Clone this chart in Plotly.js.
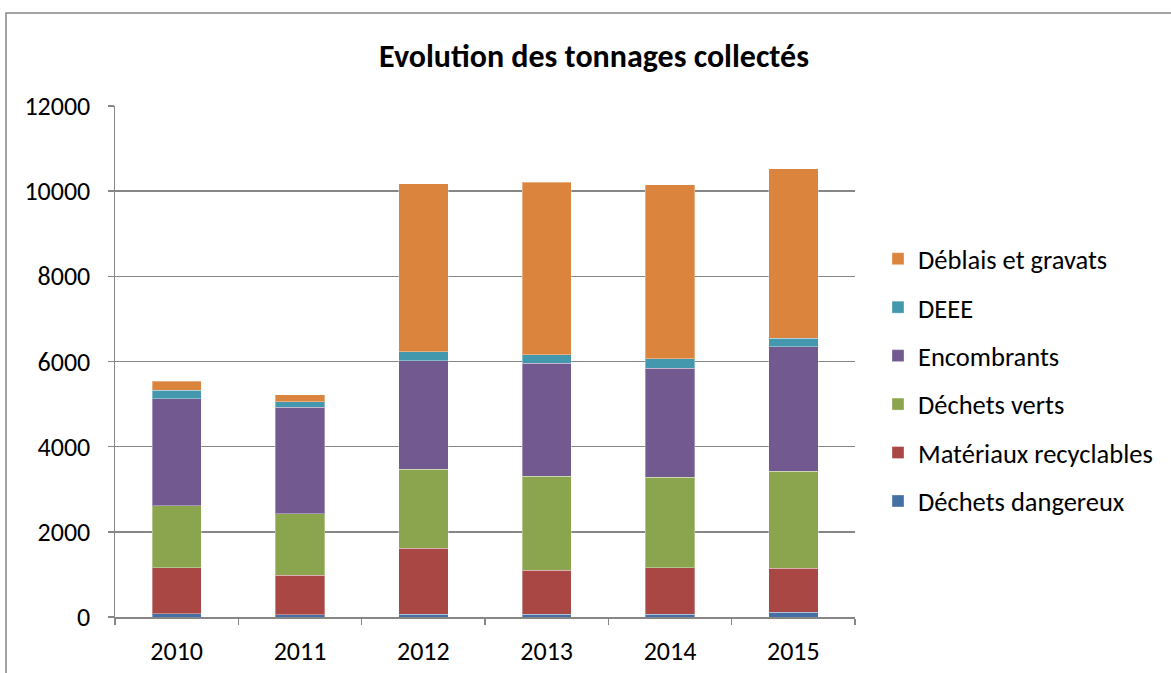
<!DOCTYPE html>
<html>
<head>
<meta charset="utf-8">
<script src="https://cdn.plot.ly/plotly-3.0.1.min.js"></script>
<style>html,body{margin:0;padding:0;background:#fff;}#chart{width:1171px;height:673px;}</style>
</head>
<body>
<div id="chart"></div>
<script>
const years = ['2010', '2011', '2012', '2013', '2014', '2015'];
const dechetsDangereux = [80, 55, 63, 63, 63, 117];
const materiauxRecyclables = [1080, 930, 1550, 1033, 1095, 1026];
const dechetsVerts = [1455, 1440, 1855, 2206, 2128, 2284];
const encombrants = [2505, 2500, 2550, 2652, 2551, 2917];
const deee = [210, 135, 210, 202, 226, 197];
const deblaisGravats = [210, 157, 3945, 4053, 4092, 3990];
const yTicks = [0, 2000, 4000, 6000, 8000, 10000, 12000];

const seriesNames = ['Déchets dangereux', 'Matériaux recyclables', 'Déchets verts', 'Encombrants', 'DEEE', 'Déblais et gravats'];
const seriesValues = [dechetsDangereux, materiauxRecyclables, dechetsVerts, encombrants, deee, deblaisGravats];
const colors = ['#4470A5', '#A94745', '#8AA54D', '#72598F', '#4398AE', '#DB843D'];

const FONT = 'Carlito, Lato, "Liberation Sans", sans-serif';

const traces = seriesNames.map((name, i) => ({
  type: 'bar',
  name: name,
  x: years,
  y: seriesValues[i],
  legendgroup: 'g' + i,
  legendrank: 100 - i,
  marker: {color: colors[i], line: {color: 'rgba(255,255,255,0.35)', width: 1}},
  hoverinfo: 'x+y+name'
}));

const L = 115, R = 855, T = 106, B = 617, W = 1171, H = 673;
const pw = R - L, ph = B - T;
const px = v => (v - L) / pw;
const py = v => (B - v) / ph;

const layout = {
  width: W, height: H,
  margin: {l: L, r: W - R, t: T, b: H - B, pad: 0},
  paper_bgcolor: '#ffffff',
  plot_bgcolor: '#ffffff',
  barmode: 'stack',
  bargap: 0.6,
  showlegend: true,
  font: {family: FONT, size: 26, color: '#000000'},
  title: {
    text: '<b>Evolution des tonnages collectés</b>',
    font: {family: FONT, size: 32, color: '#000000'},
    x: 594 / W, xanchor: 'center',
    y: 1 - 56 / H, yanchor: 'middle',
    xref: 'container', yref: 'container'
  },
  xaxis: {
    type: 'category',
    showgrid: false,
    showline: true,
    linecolor: '#868686',
    linewidth: 1.5,
    ticks: 'outside',
    tickson: 'boundaries',
    ticklen: 6,
    tickcolor: '#868686',
    tickwidth: 1.5,
    tickfont: {family: FONT, size: 26, color: '#000000'},
    ticklabelstandoff: 10,
    zeroline: false,
    fixedrange: true
  },
  yaxis: {
    range: [0, 12000],
    tickmode: 'array',
    tickvals: yTicks,
    ticktext: yTicks.map(String),
    showgrid: true,
    gridcolor: '#868686',
    gridwidth: 1.5,
    showline: true,
    linecolor: '#868686',
    linewidth: 1.5,
    ticks: 'outside',
    ticklen: 6,
    tickcolor: '#868686',
    tickwidth: 1.5,
    tickfont: {family: FONT, size: 26, color: '#000000'},
    ticklabelstandoff: 12,
    zeroline: false,
    fixedrange: true
  },
  legend: {
    x: px(878), xanchor: 'left',
    y: py(380), yanchor: 'middle',
    traceorder: 'grouped',
    tracegroupgap: 11,
    font: {family: FONT, size: 26.5, color: '#000000'},
    bgcolor: 'rgba(0,0,0,0)',
    itemwidth: 30
  },
  shapes: [{
    type: 'rect', xref: 'paper', yref: 'paper',
    x0: px(6), x1: px(1180), y0: py(690), y1: py(13),
    line: {color: '#868686', width: 1.5},
    fillcolor: 'rgba(0,0,0,0)',
    layer: 'below'
  }]
};

Plotly.newPlot('chart', traces, layout, {displayModeBar: false, staticPlot: true});
</script>
</body>
</html>
